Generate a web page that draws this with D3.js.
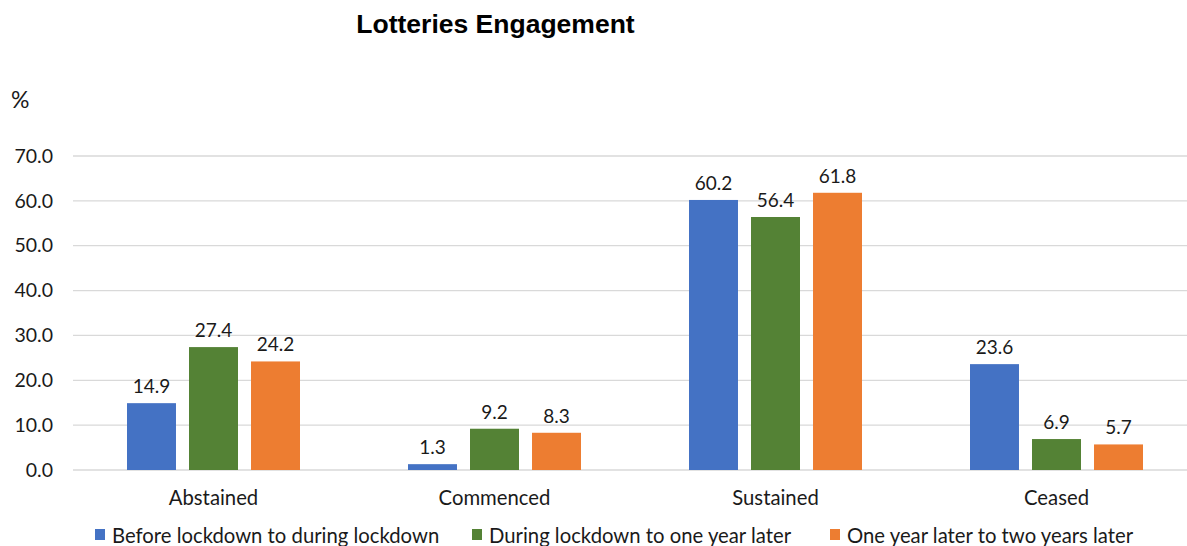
<!DOCTYPE html>
<html>
<head>
<meta charset="utf-8">
<script src="https://cdn.jsdelivr.net/npm/d3@7"></script>
<style>
  html, body { margin: 0; padding: 0; background: #fff; }
  svg { display: block; }
</style>
</head>
<body>
<script>
// Chart data
const categories = ["Abstained", "Commenced", "Sustained", "Ceased"];
const seriesNames = [
  "Before lockdown to during lockdown",
  "During lockdown to one year later",
  "One year later to two years later"
];
const beforeToDuring = [14.9, 1.3, 60.2, 23.6];
const duringToOneYear = [27.4, 9.2, 56.4, 6.9];
const oneYearToTwoYears = [24.2, 8.3, 61.8, 5.7];
const yTicks = [0, 10, 20, 30, 40, 50, 60, 70];
const seriesColors = ["#4472C4", "#548235", "#ED7D31"];

const seriesValues = [beforeToDuring, duringToOneYear, oneYearToTwoYears];

const W = 1187, H = 546;
const svg = d3.select("body").append("svg").attr("width", W).attr("height", H);

const labelFont = "Lato, 'Open Sans', sans-serif";

const x0 = d3.scaleBand().domain(categories).range([73, 1197]);
const x1 = d3.scaleBand().domain(d3.range(seriesNames.length)).range([54, 227]).paddingInner(0.21);
const y = d3.scaleLinear().domain([0, 70]).range([470, 156]);

// Title
svg.append("text")
  .attr("x", 495.5).attr("y", 33)
  .attr("text-anchor", "middle")
  .attr("font-family", "'Liberation Sans', Arial, sans-serif")
  .attr("font-weight", "bold")
  .attr("font-size", 26.5)
  .attr("fill", "#000")
  .text("Lotteries Engagement");

// Unit label
svg.append("text")
  .attr("x", 11).attr("y", 108)
  .attr("font-family", labelFont)
  .attr("font-size", 23)
  .attr("fill", "#1a1a1a")
  .text("%");

// Gridlines
svg.append("g").selectAll("line")
  .data(yTicks)
  .join("line")
  .attr("x1", 73).attr("x2", 1197)
  .attr("y1", d => y(d)).attr("y2", d => y(d))
  .attr("stroke", "#d9d9d9")
  .attr("stroke-width", 1.3);

// Y tick labels
const yAxis = d3.axisLeft(y).tickValues(yTicks).tickFormat(d3.format(".1f")).tickSize(0).tickPadding(20);
const gY = svg.append("g").attr("transform", "translate(73,0)").call(yAxis);
gY.select(".domain").remove();
gY.selectAll("text")
  .attr("font-family", labelFont)
  .attr("font-size", 19.5)
  .attr("fill", "#1a1a1a");

// Bars
const groups = svg.append("g").selectAll("g")
  .data(categories)
  .join("g")
  .attr("transform", d => `translate(${x0(d)},0)`);

groups.selectAll("rect")
  .data((c, ci) => seriesValues.map((vals, si) => ({ si, v: vals[ci] })))
  .join("rect")
  .attr("x", d => x1(d.si))
  .attr("width", x1.bandwidth())
  .attr("y", d => y(d.v))
  .attr("height", d => y(0) - y(d.v))
  .attr("fill", d => seriesColors[d.si]);

// Value labels
groups.selectAll("text.val")
  .data((c, ci) => seriesValues.map((vals, si) => ({ si, v: vals[ci] })))
  .join("text")
  .attr("class", "val")
  .attr("x", d => x1(d.si) + x1.bandwidth() / 2)
  .attr("y", d => y(d.v) - 10)
  .attr("text-anchor", "middle")
  .attr("font-family", labelFont)
  .attr("font-size", 19)
  .attr("fill", "#1a1a1a")
  .text(d => d.v.toFixed(1));

// Category axis labels
const xAxis = d3.axisBottom(x0).tickSize(0).tickPadding(0);
const gX = svg.append("g").attr("transform", "translate(0,491)").call(xAxis);
gX.select(".domain").remove();
gX.selectAll("text")
  .attr("dy", "0.71em")
  .attr("font-family", labelFont)
  .attr("font-size", 20.3)
  .attr("fill", "#1a1a1a");

// Legend
const legendX = [95, 472, 830];
const legend = svg.append("g").selectAll("g")
  .data(seriesNames)
  .join("g")
  .attr("transform", (d, i) => `translate(${legendX[i]},529)`);
legend.append("rect")
  .attr("width", 10).attr("height", 11)
  .attr("fill", (d, i) => seriesColors[i]);
legend.append("text")
  .attr("x", 17).attr("y", 14)
  .attr("font-family", labelFont)
  .attr("font-size", 20.3)
  .attr("fill", "#1a1a1a")
  .text(d => d);
</script>
</body>
</html>
